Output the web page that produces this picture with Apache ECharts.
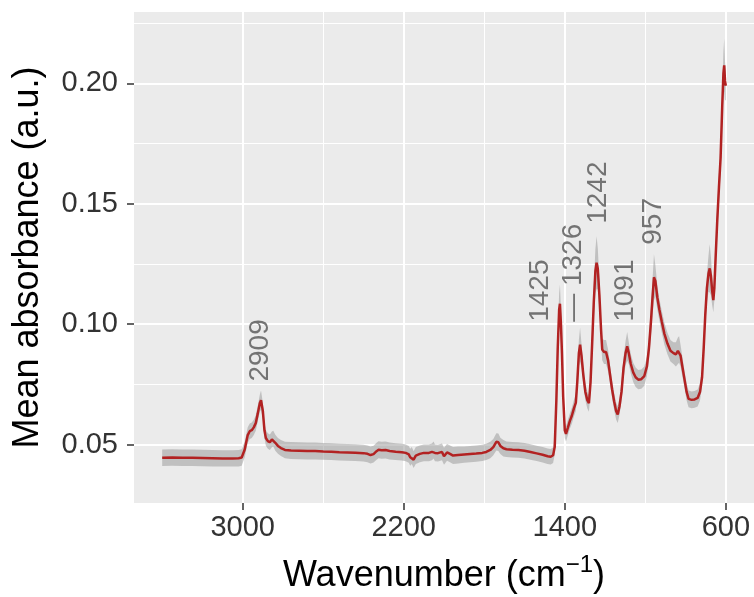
<!DOCTYPE html>
<html>
<head>
<meta charset="utf-8">
<script src="https://cdn.jsdelivr.net/npm/echarts@6/dist/echarts.min.js"></script>
<style>
  html, body { margin: 0; padding: 0; background: #ffffff; }
  #chart { width: 754px; height: 597px; }
</style>
</head>
<body>
<div id="chart"></div>
<script>
// FTIR mean spectrum (wavenumber in cm^-1, descending) with ± SD band
const wavenumber = [
  3400, 3350, 3300, 3250, 3200, 3150, 3100, 3050, 3020, 3005,
  2990, 2975, 2965, 2955, 2945, 2935, 2925, 2915, 2909, 2900,
  2892, 2885, 2875, 2865, 2855, 2848, 2838, 2825, 2810, 2790,
  2760, 2720, 2680, 2640, 2600, 2560, 2520, 2480, 2440, 2400,
  2380, 2365, 2350, 2335, 2325, 2310, 2290, 2270, 2240, 2210,
  2190, 2175, 2168, 2160, 2151, 2140, 2120, 2100, 2075, 2060,
  2052, 2045, 2030, 2010, 2000, 1985, 1970, 1955, 1930, 1900,
  1870, 1840, 1810, 1790, 1770, 1755, 1740, 1730, 1720, 1705,
  1690, 1660, 1630, 1600, 1570, 1540, 1510, 1485, 1470, 1458,
  1450, 1442, 1435, 1428, 1424, 1419, 1414, 1408, 1400, 1394,
  1385, 1375, 1365, 1355, 1345, 1338, 1330, 1324, 1317, 1308,
  1298, 1288, 1280, 1272, 1264, 1256, 1248, 1242, 1236, 1228,
  1220, 1214, 1205, 1195, 1185, 1175, 1165, 1155, 1145, 1137,
  1128, 1118, 1108, 1098, 1090, 1082, 1072, 1060, 1048, 1035,
  1020, 1005, 992, 982, 972, 965, 957, 950, 940, 930,
  918, 905, 890, 875, 860, 848, 838, 832, 825, 815,
  805, 795, 785, 770, 755, 740, 728, 718, 710, 702,
  694, 686, 680, 674, 668, 662, 657, 650, 642, 634,
  626, 618, 612, 608, 604, 600
];
const meanAbs = [
  0.0446, 0.0447, 0.0446, 0.0446, 0.0445, 0.0444, 0.0443, 0.0443, 0.0444, 0.0447,
  0.0480, 0.0540, 0.0556, 0.0560, 0.0572, 0.0590, 0.0630, 0.0672, 0.0685, 0.0640,
  0.0560, 0.0528, 0.0515, 0.0510, 0.0522, 0.0525, 0.0508, 0.0495, 0.0486, 0.0478,
  0.0476, 0.0475, 0.0474, 0.0474, 0.0472, 0.0471, 0.0469, 0.0468, 0.0467, 0.0465,
  0.0462, 0.0457, 0.0461, 0.0473, 0.0479, 0.0477, 0.0478, 0.0474, 0.0471, 0.0469,
  0.0466, 0.0460, 0.0448, 0.0455, 0.0438, 0.0455, 0.0462, 0.0466, 0.0466, 0.0470,
  0.0478, 0.0466, 0.0465, 0.0470, 0.0452, 0.0468, 0.0462, 0.0455, 0.0457, 0.0459,
  0.0461, 0.0463, 0.0466, 0.0470, 0.0478, 0.0490, 0.0512, 0.0510, 0.0495, 0.0485,
  0.0481, 0.0479, 0.0478, 0.0475, 0.0470, 0.0464, 0.0458, 0.0452, 0.0450, 0.0456,
  0.0490, 0.0680, 0.0900, 0.1060, 0.1085, 0.1000, 0.0880, 0.0700, 0.0560, 0.0545,
  0.0570, 0.0598, 0.0620, 0.0650, 0.0675, 0.0760, 0.0880, 0.0915, 0.0870, 0.0790,
  0.0720, 0.0685, 0.0672, 0.0760, 0.0920, 0.1090, 0.1220, 0.1255, 0.1230, 0.1120,
  0.0980, 0.0895, 0.0885, 0.0885, 0.0850, 0.0790, 0.0730, 0.0680, 0.0640, 0.0625,
  0.0660, 0.0720, 0.0820, 0.0880, 0.0908, 0.0880, 0.0835, 0.0800, 0.0780, 0.0770,
  0.0772, 0.0785, 0.0825, 0.0900, 0.1010, 0.1100, 0.1195, 0.1180, 0.1110, 0.1060,
  0.1010, 0.0960, 0.0920, 0.0890, 0.0880, 0.0875, 0.0890, 0.0895, 0.0870, 0.0820,
  0.0770, 0.0720, 0.0690, 0.0686, 0.0688, 0.0694, 0.0720, 0.0780, 0.0900, 0.1040,
  0.1150, 0.1210, 0.1232, 0.1200, 0.1140, 0.1100, 0.1150, 0.1290, 0.1440, 0.1570,
  0.1690, 0.1900, 0.2040, 0.2075, 0.2010, 0.1990
];
const sdAbs = [
  0.0034, 0.0034, 0.0034, 0.0034, 0.0034, 0.0034, 0.0034, 0.0034, 0.0034, 0.0034,
  0.0032, 0.0032, 0.0032, 0.0032, 0.0032, 0.0032, 0.0033, 0.0035, 0.0040, 0.0034,
  0.0032, 0.0032, 0.0032, 0.0032, 0.0033, 0.0033, 0.0033, 0.0033, 0.0033, 0.0034,
  0.0035, 0.0035, 0.0035, 0.0035, 0.0035, 0.0035, 0.0035, 0.0035, 0.0035, 0.0035,
  0.0035, 0.0035, 0.0035, 0.0035, 0.0035, 0.0035, 0.0035, 0.0035, 0.0035, 0.0035,
  0.0035, 0.0035, 0.0035, 0.0035, 0.0035, 0.0035, 0.0035, 0.0035, 0.0035, 0.0035,
  0.0035, 0.0035, 0.0035, 0.0035, 0.0035, 0.0035, 0.0035, 0.0035, 0.0035, 0.0034,
  0.0034, 0.0034, 0.0034, 0.0034, 0.0034, 0.0034, 0.0036, 0.0036, 0.0034, 0.0034,
  0.0032, 0.0032, 0.0032, 0.0032, 0.0032, 0.0032, 0.0032, 0.0032, 0.0032, 0.0032,
  0.0032, 0.0040, 0.0055, 0.0070, 0.0080, 0.0060, 0.0045, 0.0035, 0.0032, 0.0032,
  0.0032, 0.0032, 0.0033, 0.0034, 0.0035, 0.0040, 0.0055, 0.0070, 0.0050, 0.0040,
  0.0035, 0.0035, 0.0035, 0.0040, 0.0055, 0.0070, 0.0090, 0.0110, 0.0085, 0.0060,
  0.0050, 0.0045, 0.0050, 0.0050, 0.0045, 0.0040, 0.0035, 0.0035, 0.0035, 0.0035,
  0.0035, 0.0038, 0.0045, 0.0050, 0.0060, 0.0045, 0.0040, 0.0040, 0.0040, 0.0040,
  0.0040, 0.0040, 0.0040, 0.0050, 0.0060, 0.0070, 0.0095, 0.0065, 0.0050, 0.0045,
  0.0045, 0.0045, 0.0045, 0.0045, 0.0045, 0.0050, 0.0055, 0.0055, 0.0045, 0.0040,
  0.0035, 0.0035, 0.0035, 0.0035, 0.0035, 0.0035, 0.0035, 0.0035, 0.0040, 0.0050,
  0.0060, 0.0075, 0.0100, 0.0080, 0.0060, 0.0050, 0.0050, 0.0055, 0.0060, 0.0060,
  0.0060, 0.0070, 0.0090, 0.0110, 0.0080, 0.0060
];

// Peak annotations (text, anchor wavenumber, anchor absorbance)
const peakText = ['2909', '1425', '\u2014 1326', '1242', '1091', '957'];
const peakWave = [2911, 1521, 1357, 1232, 1098, 959];
const peakAbs  = [0.0762, 0.1010, 0.1010, 0.1417, 0.1010, 0.1330];

// Axis ticks
const xMajorTicks = [3000, 2200, 1400, 600];
const xMinorTicks = [2600, 1800, 1000];
const yMajorTicks = [0.05, 0.10, 0.15, 0.20];
const yMinorTicks = [0.075, 0.125, 0.175, 0.225];

const FONT = '"Liberation Sans", Arial, Helvetica, sans-serif';
const X_MIN = 460, X_MAX = 3540;
const Y_MIN = 0.0258, Y_MAX = 0.2296;

const meanData = wavenumber.map((w, i) => [w, meanAbs[i]]);
const annotData = peakWave.map((w, i) => [w, peakAbs[i]]);

const chart = echarts.init(document.getElementById('chart'), null, { renderer: 'canvas' });

chart.setOption({
  animation: false,
  backgroundColor: '#ffffff',
  grid: {
    left: 134, right: 0, top: 12, bottom: 94,
    containLabel: false,
    outerBoundsMode: 'none',
    show: true, backgroundColor: '#EBEBEB', borderWidth: 0
  },
  xAxis: [
    {
      type: 'value', inverse: true, min: X_MIN, max: X_MAX,
      axisLine: { show: false },
      axisTick: { show: true, customValues: xMajorTicks, length: 7, lineStyle: { color: '#333333', width: 1.5 } },
      axisLabel: {
        customValues: xMajorTicks, fontSize: 29, color: '#333333', fontFamily: FONT, margin: 10,
        formatter: v => String(v)
      },
      splitLine: { show: true, lineStyle: { color: '#ffffff', width: 2 } },
      name: 'Wavenumber (cm{sup|\u22121})',
      nameLocation: 'middle',
      nameGap: 50,
      nameTextStyle: {
        fontSize: 36, color: '#000000', fontFamily: FONT,
        rich: { sup: { fontSize: 24, color: '#000000', fontFamily: FONT, padding: [0, 0, 22, 0] } }
      }
    },
    {
      type: 'value', inverse: true, min: X_MIN, max: X_MAX,
      axisLine: { show: false },
      axisTick: { show: false, customValues: xMinorTicks },
      axisLabel: { show: false, customValues: xMinorTicks },
      splitLine: { show: true, lineStyle: { color: '#ffffff', width: 1 } }
    }
  ],
  yAxis: [
    {
      type: 'value', min: Y_MIN, max: Y_MAX,
      axisLine: { show: false },
      axisTick: { show: true, customValues: yMajorTicks, length: 7, lineStyle: { color: '#333333', width: 1.5 } },
      axisLabel: {
        customValues: yMajorTicks, fontSize: 29, color: '#333333', fontFamily: FONT, margin: 16,
        formatter: v => v.toFixed(2)
      },
      splitLine: { show: true, lineStyle: { color: '#ffffff', width: 2 } },
      name: 'Mean absorbance (a.u.)',
      nameLocation: 'middle',
      nameGap: 88,
      nameTextStyle: { fontSize: 36, color: '#000000', fontFamily: FONT }
    },
    {
      type: 'value', min: Y_MIN, max: Y_MAX, position: 'left',
      axisLine: { show: false },
      axisTick: { show: false, customValues: yMinorTicks },
      axisLabel: { show: false, customValues: yMinorTicks },
      splitLine: { show: true, lineStyle: { color: '#ffffff', width: 1 } }
    }
  ],
  series: [
    {
      // ± SD ribbon drawn as one polygon through the axis scales
      type: 'custom',
      xAxisIndex: 0, yAxisIndex: 0,
      silent: true,
      clip: true,
      z: 2,
      data: meanData,
      encode: { x: 0, y: 1 },
      renderItem: function (params, api) {
        if (params.dataIndex !== 0) return null;
        const pts = [];
        for (let i = 0; i < wavenumber.length; i++) {
          pts.push(api.coord([wavenumber[i], meanAbs[i] + sdAbs[i]]));
        }
        for (let i = wavenumber.length - 1; i >= 0; i--) {
          pts.push(api.coord([wavenumber[i], meanAbs[i] - sdAbs[i]]));
        }
        return {
          type: 'polygon',
          shape: { points: pts },
          style: { fill: 'rgba(150,150,150,0.5)', stroke: null }
        };
      }
    },
    {
      type: 'line',
      xAxisIndex: 0, yAxisIndex: 0,
      data: meanData,
      symbol: 'none',
      silent: true,
      z: 3,
      lineStyle: { color: '#B22222', width: 2.5 }
    },
    {
      type: 'scatter',
      xAxisIndex: 0, yAxisIndex: 0,
      data: annotData,
      symbolSize: 1,
      itemStyle: { color: 'rgba(0,0,0,0)' },
      silent: true,
      z: 4,
      label: {
        show: true,
        position: 'inside',
        rotate: 90,
        align: 'left',
        verticalAlign: 'middle',
        fontSize: 28,
        color: '#555555',
        fontFamily: FONT,
        formatter: p => peakText[p.dataIndex]
      },
      labelLayout: { hideOverlap: false }
    }
  ]
});
</script>
</body>
</html>
